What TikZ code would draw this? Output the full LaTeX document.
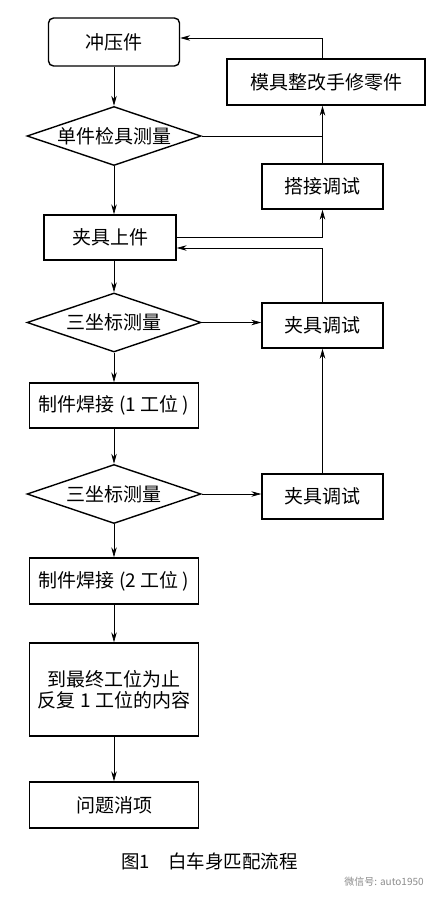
\documentclass[tikz,border=0pt]{standalone}
\usepackage{fontspec}
\newfontfamily\cjk{Noto Sans CJK SC}
\usetikzlibrary{shapes.geometric,arrows.meta}

\begin{document}
\begin{tikzpicture}[x=1pt,y=-1pt,
    box/.style = {draw, line width=1.4pt, inner sep=0pt,
        minimum width=169pt, minimum height=46pt,
        font=\cjk\fontsize{19}{21}\selectfont},
    sidebox/.style = {box, minimum width=121pt, minimum height=45pt},
    test/.style = {diamond, draw, line width=1.4pt, inner sep=0pt,
        aspect=2.95, minimum width=174pt, minimum height=59pt,
        font=\cjk\fontsize{19}{21}\selectfont},
    flow/.style = {line width=0.7pt, -{Stealth[length=10pt,width=5.5pt]}}]

% Page
\fill[white] (0,0) rectangle (440,902);
\useasboundingbox (0,0) rectangle (440,902);

% Main column
\node[box,rounded corners=5pt,minimum width=131pt,minimum height=48pt] (chongya) at (114,42) {冲压件};
\node[test] (jianju) at (114,136) {单件检具测量};
\node[box,minimum width=132pt,minimum height=45pt] (shangjian) at (110,237.5) {夹具上件};
\node[test] (sanzuo1) at (114,322.5) {三坐标测量};
\node[box,minimum height=45pt] (hanjie1) at (114,405.5) {制件焊接 (1 工位 )};
\node[test] (sanzuo2) at (114,494) {三坐标测量};
\node[box] (hanjie2) at (114,581) {制件焊接 (2 工位 )};
\node[box,minimum height=93pt,align=center] (fanfu) at (114,689.5) {到最终工位为止\\反复 1 工位的内容};
\node[box] (xiaoxiang) at (114,805) {问题消项};

% Right column
\node[box,minimum width=198pt] (mojv) at (326,82) {模具整改手修零件};
\node[sidebox] (dajie) at (322.5,186.5) {搭接调试};
\node[sidebox] (tiaoshi1) at (322.5,325.5) {夹具调试};
\node[sidebox] (tiaoshi2) at (322.5,496.5) {夹具调试};

% Main flow
\draw[flow] (chongya) -- (jianju);
\draw[flow] (jianju.south) -- (jianju.south |- shangjian.north);
\draw[flow] (shangjian.south -| sanzuo1.north) -- (sanzuo1.north);
\draw[flow] (sanzuo1) -- (hanjie1);
\draw[flow] (hanjie1) -- (sanzuo2);
\draw[flow] (sanzuo2) -- (hanjie2);
\draw[flow] (hanjie2) -- (fanfu);
\draw[flow] (fanfu) -- (xiaoxiang);

% Feedback loops
\draw[flow] (mojv.north -| dajie.north) |- ([yshift=4pt]chongya.east);
\draw[flow] (dajie.north) -- (dajie.north |- mojv.south);
\draw[line width=0.7pt] (jianju.east) -- (jianju.east -| dajie.north);
\draw[flow] (shangjian.east) -| (dajie.south);
\draw[flow] (tiaoshi1.north) |- ([yshift=-10.5pt]shangjian.east);
\draw[flow] (sanzuo1.east) -- (sanzuo1.east -| tiaoshi1.west);
\draw[flow] (tiaoshi2.north) -- (tiaoshi1.south);
\draw[flow] (sanzuo2.east) -- (sanzuo2.east -| tiaoshi2.west);

% Caption
\node[font=\cjk\fontsize{18.5}{20}\selectfont] (caption) at (209.5,861) {图1\quad 白车身匹配流程};
\node[font=\cjk\fontsize{10}{12}\selectfont,text=black!45] (mark) at (384,882) {微信号: auto1950};

\end{tikzpicture}
\end{document}
